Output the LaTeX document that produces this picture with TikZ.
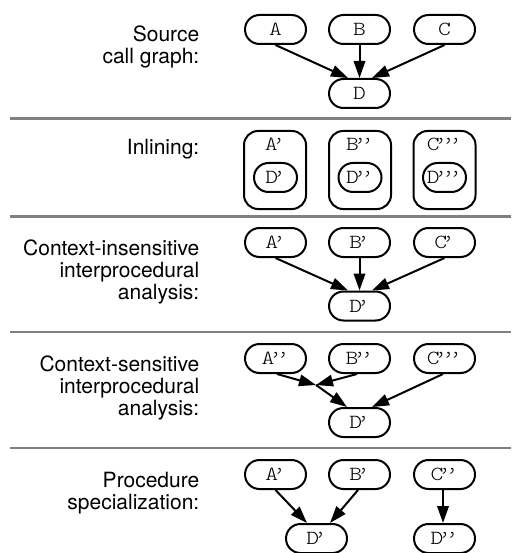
\documentclass[tikz,border=0pt]{standalone}
\usepackage{fontspec}
\newfontfamily\helv{TeX Gyre Heros}
\newfontfamily\mono{lmmonolt10-regular.otf}[FakeStretch=1.22]
\usetikzlibrary{arrows.meta}
\newcommand{\lblfont}{\helv\fontsize{21}{22}\selectfont}
\newcommand{\nfont}{\mono\fontsize{20}{20}\selectfont}
\newcommand{\rl}[1]{\hbox to 0pt{\hss #1}}
\newcommand{\pr}{\kern-0.27em’}
\tikzset{
  proc/.style={draw, line width=2pt, rounded corners=14.5pt, minimum width=61pt, minimum height=29pt, inner sep=0pt, font=\nfont},
  bigbox/.style={draw, line width=2pt, rounded corners=14pt, minimum width=62pt, minimum height=78pt, inner sep=0pt},
  innerproc/.style={draw, line width=2pt, rounded corners=14.5pt, minimum width=43pt, minimum height=29pt, inner sep=0pt, font=\nfont},
  boxtext/.style={anchor=base, inner sep=0pt, font=\nfont},
  lbl/.style={anchor=base east, inner sep=0pt, font=\lblfont},
  arr/.style={line width=2pt, -{Triangle[length=17pt,width=11.5pt]}},
  sepline/.style={draw=gray, line width=2.5pt}
}
\begin{document}
\begin{tikzpicture}[x=1pt,y=-1pt]
\useasboundingbox (0,0) rectangle (511,553);
% separators
\draw[sepline] (10,118.5) -- (511,118.5);
\draw[sepline] (10,216.5) -- (511,216.5);
\draw[sepline] (10,332) -- (511,332);
\draw[sepline] (10,448) -- (511,448);
% labels
\node[lbl] (L1) at (200,42) {\vtop{\rl{Source}\rl{call graph:}}};
\node[lbl] (L2) at (200,155) {\vtop{\rl{Inlining:}}};
\node[lbl] (L3) at (200,255) {\vtop{\rl{Context-insensitive}\rl{interprocedural}\rl{analysis:}}};
\node[lbl] (L4) at (200,371) {\vtop{\rl{Context-sensitive}\rl{interprocedural}\rl{analysis:}}};
\node[lbl] (L5) at (200,487) {\vtop{\rl{Procedure}\rl{specialization:}}};
% row 1
\node[proc] (A1) at (275.5,29.5) {A};
\node[proc] (B1) at (359.5,29.5) {B};
\node[proc] (C1) at (444.5,29.5) {C};
\node[proc] (D1) at (359.5,93.5) {D};
\draw[arr] (A1.south) -- ([xshift=-11.5pt]D1.north);
\draw[arr] (B1.south) -- (D1.north);
\draw[arr] (C1.south) -- ([xshift=12.5pt]D1.north);
% row 2
\node[bigbox] (X1) at (275,170) {};
\node[bigbox] (X2) at (360,170) {};
\node[bigbox] (X3) at (444.5,170) {};
\node[boxtext] (XA) at (275,151) {A\pr};
\node[boxtext] (XB) at (360,151) {B\pr\pr};
\node[boxtext] (XC) at (444.5,151) {C\pr\pr\pr};
\node[innerproc] (Y1) at (275.5,177.5) {D\pr};
\node[innerproc] (Y2) at (360,177.5) {D\pr\pr};
\node[innerproc] (Y3) at (444.5,177.5) {D\pr\pr\pr};
% row 3
\node[proc] (A3) at (275.5,242.5) {A\pr};
\node[proc] (B3) at (359.5,242.5) {B\pr};
\node[proc] (C3) at (444.5,242.5) {C\pr};
\node[proc] (D3) at (359.5,306) {D\pr};
\draw[arr] (A3.south) -- ([xshift=-11.5pt]D3.north);
\draw[arr] (B3.south) -- (D3.north);
\draw[arr] (C3.south) -- ([xshift=12.5pt]D3.north);
% row 4
\node[proc] (A4) at (275.5,358.5) {A\pr\pr};
\node[proc] (B4) at (359.5,358.5) {B\pr\pr};
\node[proc] (C4) at (444.5,358.5) {C\pr\pr\pr};
\node[proc] (D4) at (359.5,422.5) {D\pr};
\coordinate (J4) at (316,385);
\draw[arr] ([xshift=1.5pt]A4.south) -- (J4);
\draw[arr] ([xshift=-2.5pt]B4.south) -- (J4);
\draw[arr] (J4) -- ([xshift=-12.5pt]D4.north);
\draw[arr] ([xshift=-1.5pt]C4.south) -- ([xshift=12.5pt]D4.north);
% row 5
\node[proc] (A5) at (275.5,474.5) {A\pr};
\node[proc] (B5) at (359.5,474.5) {B\pr};
\node[proc] (C5) at (444.5,474.5) {C\pr\pr};
\node[proc] (D5) at (316.5,538.5) {D\pr};
\node[proc] (E5) at (444.5,538.5) {D\pr\pr};
\draw[arr] (A5.south) -- ([xshift=-9.5pt]D5.north);
\draw[arr] ([xshift=-1.5pt]B5.south) -- ([xshift=13.5pt]D5.north);
\draw[arr] ([xshift=-1.5pt]C5.south) -- ([xshift=-1.5pt]E5.north);
\end{tikzpicture}
\end{document}
